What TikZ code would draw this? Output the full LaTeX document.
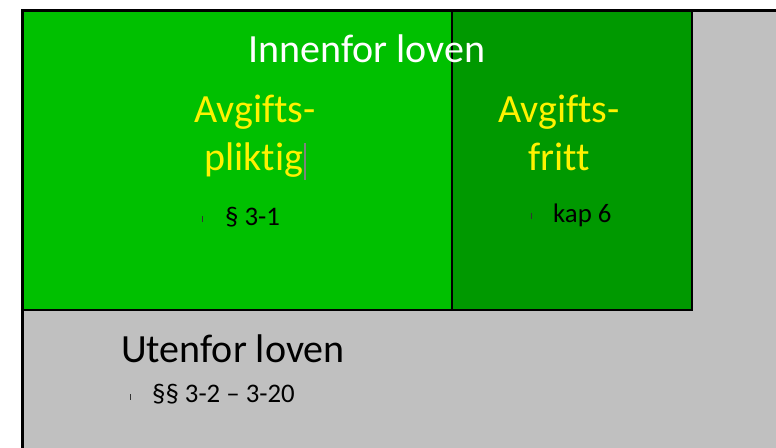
\documentclass[tikz,border=0pt]{standalone}
\usepackage{fontspec}
\setmainfont{Carlito}[Ligatures=NoCommon]
\begin{document}
\begin{tikzpicture}[x=1pt,y=-1pt,
  frame/.style={draw=black,line width=2.8pt},
  bigtext/.style={inner sep=0pt,anchor=base,font=\fontsize{40}{48}\selectfont},
  smalltext/.style={inner sep=0pt,anchor=base west,font=\fontsize{26.8}{30}\selectfont},
  tick/.style={draw=black!80,line width=0.8pt}]
\definecolor{lightgreen}{HTML}{00C000}
\definecolor{darkgreen}{HTML}{009900}
\definecolor{lawgray}{HTML}{C0C0C0}
\useasboundingbox (0,0) rectangle (776,447);
\fill[white] (0,0) rectangle (776,447);
\begin{scope}
  \clip (0,0) rectangle (776,447);
  % region outside the law
  \filldraw[fill=lawgray,frame] (22.5,10.5) rectangle (800,470);
  % inside the law: liable and exempt
  \filldraw[fill=lightgreen,frame] (22.5,10.5) rectangle (452,310);
  \filldraw[fill=darkgreen,frame] (452,10.5) rectangle (692,310);
\end{scope}
% labels
\node[bigtext,text=white] (inside) at (367,62) {Innenfor loven};
\node[bigtext,text=yellow] (liable1) at (255,122) {Avgifts-};
\node[bigtext,text=yellow] (liable2) at (254,170) {pliktig};
\node[bigtext,text=yellow] (exempt1) at (559,122) {Avgifts-};
\node[bigtext,text=yellow] (exempt2) at (559,170) {fritt};
\node[smalltext] (par31) at (225,225) {§ 3-1};
\node[smalltext] (kap6) at (553,222) {kap 6};
\node[bigtext,anchor=base west] (outside) at (121,362) {Utenfor loven};
\node[smalltext] (par32) at (152,402) {§§ 3-2 – 3-20};
% bullet ticks and text cursor
\draw[tick] (202.5,216) -- (202.5,222);
\draw[tick] (531.5,213) -- (531.5,219);
\draw[tick] (130.5,394) -- (130.5,400);
\coordinate (caretTop) at (305,143);
\coordinate (caretBot) at (305,180);
\draw[draw=gray,line width=1.6pt] (caretTop) -- (caretBot);
\end{tikzpicture}
\end{document}
